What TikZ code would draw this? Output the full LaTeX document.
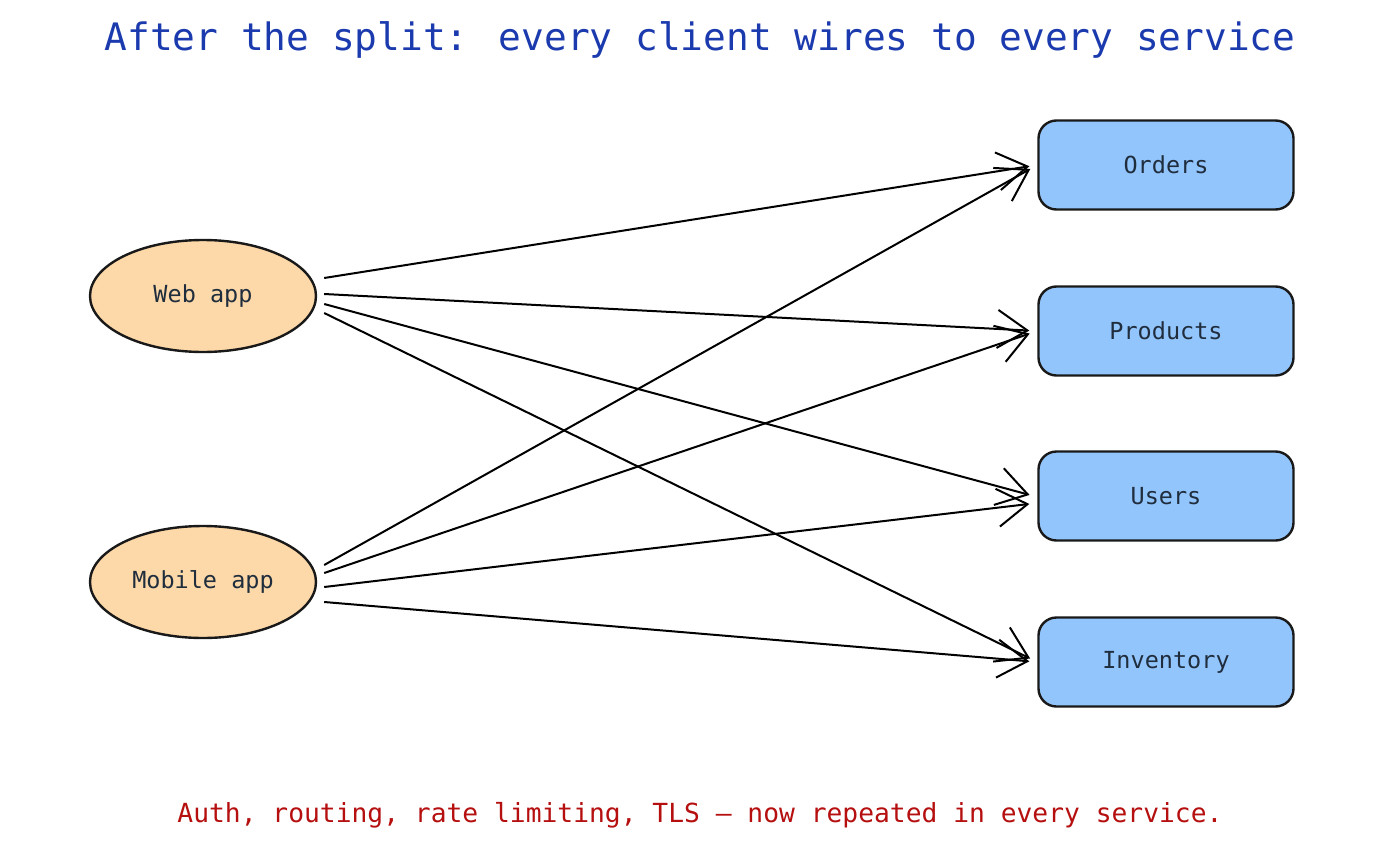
\documentclass[tikz,border=0pt]{standalone}
\usepackage{fontspec}
\setmainfont{DejaVu Sans Mono}
\usetikzlibrary{arrows.meta,calc,shapes.geometric}
\definecolor{tblue}{HTML}{1A3AAE}
\definecolor{tred}{HTML}{B50F0F}
\definecolor{peach}{HTML}{FDD8A8}
\definecolor{sky}{HTML}{93C5FD}
\definecolor{ink}{HTML}{1F2D3D}
\begin{document}
\begin{tikzpicture}[x=1pt,y=-1pt,
 client/.style={ellipse,draw=black!90,line width=2.4pt,fill=peach,minimum width=226pt,minimum height=112pt,inner sep=0pt,font=\fontsize{23.5}{26}\selectfont,text=ink},
 svc/.style={rounded corners=18pt,draw=black!90,line width=2.4pt,fill=sky,minimum width=255pt,minimum height=89pt,inner sep=0pt,font=\fontsize{23.5}{26}\selectfont,text=ink},
 wire/.style={line width=2pt,-{Straight Barb[length=30pt,width=38pt,line width=2pt]},shorten >=8pt}]
\useasboundingbox (0,0) rectangle (1400,851);
\node[font=\fontsize{37.8}{42}\selectfont,text=tblue] (title) at (700,40) {After the split: every client wires to every service};
\node[client] (web) at (203,296) {Web app};
\node[client] (mob) at (203,582) {Mobile app};
\node[svc] (ord) at (1166,165) {Orders};
\node[svc] (prod) at (1166,331) {Products};
\node[svc] (usr) at (1166,496) {Users};
\node[svc] (inv) at (1166,662) {Inventory};
\draw[wire] ($(web.east)+(7,-18)$) -- (ord.west);
\draw[wire] ($(web.east)+(7,-2)$) -- (prod.west);
\draw[wire] ($(web.east)+(7,8)$) -- ($(usr.west)+(0,1)$);
\draw[wire] ($(web.east)+(7,17)$) -- (inv.west);
\draw[wire] ($(mob.east)+(7,-17)$) -- (ord.west);
\draw[wire] ($(mob.east)+(7,-9)$) -- (prod.west);
\draw[wire] ($(mob.east)+(7,5)$) -- ($(usr.west)+(0,7)$);
\draw[wire] ($(mob.east)+(7,20)$) -- (inv.west);
\node[font=\fontsize{26.3}{30}\selectfont,text=tred] (note) at (700,815) {Auth, routing, rate limiting, TLS — now repeated in every service.};
\end{tikzpicture}
\end{document}
